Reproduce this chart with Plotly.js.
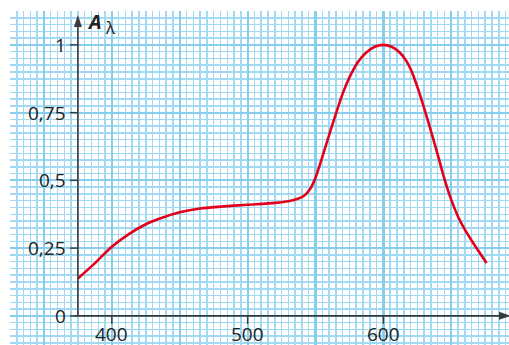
<!DOCTYPE html>
<html>
<head>
<meta charset="utf-8">
<script src="https://cdn.plot.ly/plotly-3.0.1.min.js"></script>
<style>
  html, body { margin: 0; padding: 0; background: #ffffff; }
  #chart { width: 509px; height: 345px; }
</style>
</head>
<body>
<div id="chart"></div>
<script>
// Data
const wavelength = [375, 387, 400, 412, 425, 437, 450, 465, 480, 500, 520, 530, 537, 542, 546, 550, 554, 558, 564, 570, 575, 581, 587, 594, 600, 606, 612, 617, 621, 626, 631, 636, 640, 645, 650, 655, 660, 666, 676];
const absorbance = [0.138, 0.192, 0.255, 0.3, 0.338, 0.362, 0.382, 0.396, 0.403, 0.41, 0.417, 0.423, 0.432, 0.445, 0.468, 0.51, 0.57, 0.635, 0.73, 0.82, 0.88, 0.935, 0.97, 0.994, 1.0, 0.993, 0.972, 0.94, 0.9, 0.83, 0.75, 0.665, 0.595, 0.505, 0.428, 0.366, 0.318, 0.27, 0.195];

const xTicks = [400, 500, 600];
const xTickLabels = ['400', '500', '600'];
const yTicks = [0, 0.25, 0.5, 0.75, 1];
const yTickLabels = ['0', '0,25', '0,5', '0,75', '1'];

const axisOrigin = [375, 0];
const xAxisEnd = 694;
const yAxisEnd = 1.11;

const axisColor = '#3a3a3a';
const font = 'Open Sans, Noto Sans, sans-serif';

const trace = {
  x: wavelength,
  y: absorbance,
  type: 'scatter',
  mode: 'lines',
  line: { color: '#e3001b', width: 2.6, shape: 'spline', smoothing: 0.8 },
  hoverinfo: 'skip'
};

const shapes = [];
shapes.push({ type: 'line', xref: 'x', yref: 'y', x0: 372.5, x1: xAxisEnd - 4, y0: axisOrigin[1], y1: axisOrigin[1],
  line: { color: axisColor, width: 1.6 } });
shapes.push({ type: 'line', xref: 'x', yref: 'y', x0: axisOrigin[0], x1: axisOrigin[0], y0: axisOrigin[1], y1: yAxisEnd - 0.03,
  line: { color: axisColor, width: 1.6 } });
shapes.push({ type: 'path', xref: 'x', yref: 'y', xsizemode: 'pixel', ysizemode: 'pixel',
  xanchor: axisOrigin[0], yanchor: yAxisEnd, path: 'M0,0 L-4,-12 L4,-12 Z',
  fillcolor: axisColor, line: { width: 0 } });
shapes.push({ type: 'path', xref: 'x', yref: 'y', xsizemode: 'pixel', ysizemode: 'pixel',
  xanchor: xAxisEnd, yanchor: axisOrigin[1], path: 'M0,0 L-12,4 L-12,-4 Z',
  fillcolor: axisColor, line: { width: 0 } });
yTicks.forEach(v => shapes.push({ type: 'line', xref: 'x', yref: 'y', xsizemode: 'pixel', xanchor: axisOrigin[0],
  x0: -8, x1: 0, y0: v, y1: v, line: { color: axisColor, width: 1.4 } }));
xTicks.forEach(v => shapes.push({ type: 'line', xref: 'x', yref: 'y', ysizemode: 'pixel', yanchor: axisOrigin[1],
  y0: -8, y1: 0, x0: v, x1: v, line: { color: axisColor, width: 1.4 } }));

const annotations = [];
yTicks.forEach((v, i) => annotations.push({ x: axisOrigin[0], y: v, xref: 'x', yref: 'y', text: yTickLabels[i],
  showarrow: false, xanchor: 'right', yanchor: 'middle', xshift: -10, yshift: 0,
  font: { family: font, size: 19, color: '#222' } }));
xTicks.forEach((v, i) => annotations.push({ x: v, y: axisOrigin[1], xref: 'x', yref: 'y', text: xTickLabels[i],
  showarrow: false, xanchor: 'center', yanchor: 'top', yshift: -3,
  font: { family: font, size: 19, color: '#222' } }));
annotations.push({ x: 380.5, y: 1.085, xref: 'x', yref: 'y', text: '<b><i>A</i></b>', showarrow: false,
  xanchor: 'left', yanchor: 'middle', font: { family: font, size: 20, color: '#222' } });
annotations.push({ x: 393.5, y: 1.065, xref: 'x', yref: 'y', text: 'λ', showarrow: false,
  xanchor: 'left', yanchor: 'middle', font: { family: font, size: 17, color: '#222' } });
annotations.push({ x: 693, y: 0.067, xref: 'x', yref: 'y', text: 'λ (nm)', showarrow: false,
  xanchor: 'right', yanchor: 'middle', font: { family: font, size: 19, color: '#222' } });

const layout = {
  width: 509, height: 345,
  margin: { l: 10, r: 0, t: 11, b: 0, pad: 0 },
  paper_bgcolor: '#ffffff', plot_bgcolor: '#ffffff',
  showlegend: false,
  xaxis: {
    range: [325, 692.5], tick0: 400, dtick: 50, showgrid: true, gridcolor: '#86cdee', gridwidth: 2.2,
    minor: { dtick: 5, tick0: 400, showgrid: true, gridcolor: '#a2d9f2', gridwidth: 1.5 },
    showticklabels: false, ticks: '', zeroline: false, showline: false, fixedrange: true
  },
  yaxis: {
    range: [-0.1075, 1.125], tick0: 0, dtick: 0.25, showgrid: true, gridcolor: '#86cdee', gridwidth: 2.2,
    minor: { dtick: 0.025, tick0: 0, showgrid: true, gridcolor: '#a2d9f2', gridwidth: 1.5 },
    showticklabels: false, ticks: '', zeroline: false, showline: false, fixedrange: true
  },
  shapes: shapes,
  annotations: annotations
};

Plotly.newPlot('chart', [trace], layout, { displayModeBar: false, staticPlot: true });
</script>
</body>
</html>
